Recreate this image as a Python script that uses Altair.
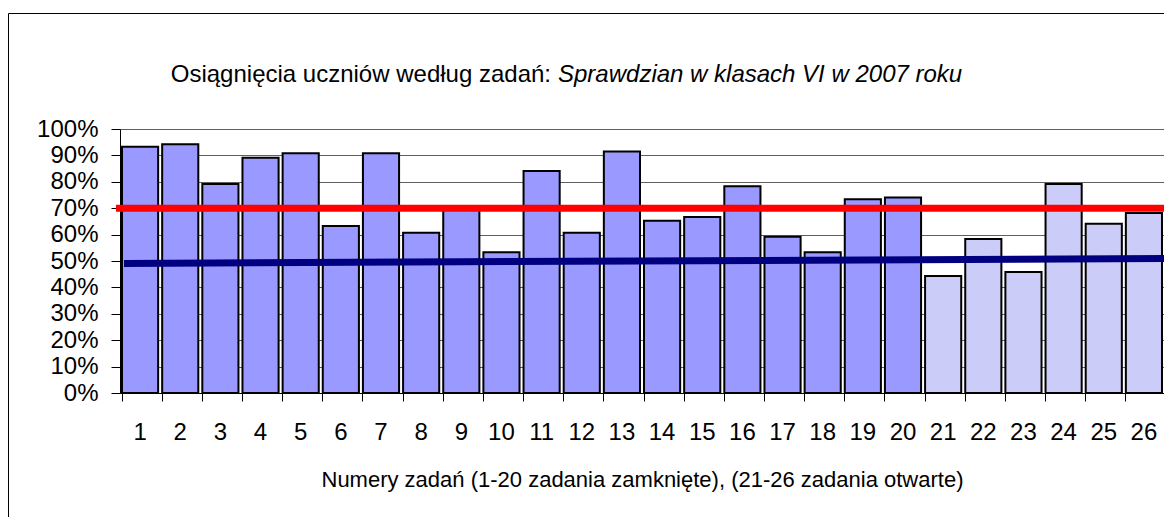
import altair as alt
import pandas as pd

# --- data ---
zadania = list(range(1, 27))
wyniki = [0.933, 0.942, 0.792, 0.891, 0.908, 0.633, 0.908, 0.607, 0.693, 0.533,
          0.841, 0.607, 0.915, 0.652, 0.667, 0.783, 0.592, 0.533, 0.734, 0.741,
          0.443, 0.583, 0.458, 0.792, 0.641, 0.682]
typy = ["zamknięte"] * 20 + ["otwarte"] * 6
prog = [0.70]
trend_start = [0.491]
trend_end = [0.509]
y_ticks = [0, 0.1, 0.2, 0.3, 0.4, 0.5, 0.6, 0.7, 0.8, 0.9, 1.0]
tytul_1 = "Osiągnięcia uczniów według zadań:"
tytul_2 = "Sprawdzian w klasach VI w 2007 roku"
os_x = "Numery zadań (1-20 zadania zamknięte), (21-26 zadania otwarte)"

FONT = "Liberation Sans"
W, H = 1044, 264

df = pd.DataFrame({"zadanie": zadania, "wynik": wyniki, "typ": typy})

y_scale = alt.Scale(domain=[0, 1])
y_axis = alt.Axis(title=None, format=".0%", values=y_ticks, labelFont=FONT,
                  labelFontSize=24, labelColor="black", labelPadding=13,
                  tickColor="black", tickSize=9, domainColor="black",
                  gridColor="#606060", gridWidth=1, labelOverlap=False,
                  labelBound=False, labelFlush=False)

bars = alt.Chart(df).mark_bar(stroke="black", strokeWidth=2).encode(
    x=alt.X("zadanie:O", sort=None,
            scale=alt.Scale(paddingInner=0.1, paddingOuter=0.05),
            axis=alt.Axis(title=os_x, labelAngle=0, labelFont=FONT, labelFontSize=24,
                          labelColor="black", labelPadding=19, tickColor="black",
                          tickSize=8, bandPosition=0, domainColor="black",
                          domainWidth=1, titleFont=FONT, titleFontSize=22,
                          titleFontWeight="normal", titleColor="black",
                          titlePadding=25, grid=False, labelOverlap=False)),
    y=alt.Y("wynik:Q", scale=y_scale, axis=y_axis),
    fill=alt.Fill("typ:N", scale=alt.Scale(domain=["zamknięte", "otwarte"],
                                           range=["#9999FF", "#CCCCF8"]),
                  legend=None),
)

red = alt.Chart(pd.DataFrame({"poziom": prog})).mark_rule(
    color="#FF0000", strokeWidth=7).encode(
    y=alt.Y("poziom:Q", scale=y_scale, axis=y_axis), x=alt.value(-4), x2=alt.value(W))

blue = alt.Chart(pd.DataFrame({"a": trend_start, "b": trend_end})).mark_rule(
    color="#000080", strokeWidth=7).encode(
    y=alt.Y("a:Q", scale=y_scale, axis=y_axis), y2="b:Q", x=alt.value(4), x2=alt.value(W))

t1 = alt.Chart(pd.DataFrame({"t": [tytul_1]})).mark_text(
    font=FONT, fontSize=24, align="right", baseline="middle", color="black").encode(
    text="t:N", x=alt.value(431), y=alt.value(-54))

t2 = alt.Chart(pd.DataFrame({"t": [tytul_2]})).mark_text(
    font=FONT, fontSize=24, fontStyle="italic", align="left", baseline="middle",
    color="black").encode(
    text="t:N", x=alt.value(438), y=alt.value(-54))

frame = alt.Chart(pd.DataFrame({"f": [0]})).mark_rect(
    fillOpacity=0, stroke="black", strokeWidth=1).encode(
    x=alt.value(-111.5), x2=alt.value(W + 40), y=alt.value(-115.5), y2=alt.value(H + 200))

chart = alt.layer(bars, red, blue, t1, t2, frame).properties(
    width=W, height=H,
    autosize=alt.AutoSizeParams(type="none"),
    padding={"left": 112, "top": 121, "right": 0, "bottom": 124},
).configure_view(stroke="#A0A0A0", strokeWidth=2).configure(background="white")

chart.save("out.html", embed_options={"renderer": "svg", "actions": False})
